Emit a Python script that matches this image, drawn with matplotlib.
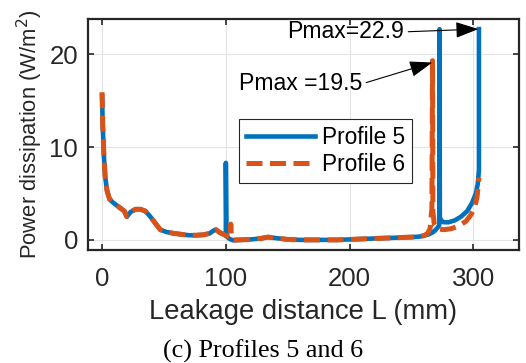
import numpy as np
import matplotlib
matplotlib.use('Agg')
import matplotlib.pyplot as plt

plt.rcParams['font.family'] = ['Liberation Sans', 'DejaVu Sans']

# Profile 5 (solid blue)
L5 = [0, 0.5, 1.5, 2.5, 4, 6, 9, 12, 15, 18, 20, 23, 27, 31, 35, 39, 43, 47, 52, 58, 64, 70, 76, 82, 87, 90, 92, 95, 98, 100,
      100, 100.5, 103, 106, 112, 120, 128, 134, 140, 150, 160, 170, 180, 190, 200, 210, 220, 230, 240, 250, 256, 260,
      264, 267, 269, 271, 272.5, 272.7, 272.9, 274, 276, 280, 285, 290, 295, 299, 302, 303.5, 304.5, 304.5]
P5 = [15.5, 12.5, 9.0, 6.8, 5.3, 4.4, 4.0, 3.7, 3.4, 3.1, 2.5, 3.0, 3.3, 3.3, 3.1, 2.5, 1.8, 1.1, 0.85, 0.7, 0.6, 0.5, 0.5, 0.55, 0.7, 1.0, 1.1, 0.8, 0.6, 0.5,
      8.3, 0.4, 0.1, -0.05, 0.0, 0.05, 0.15, 0.3, 0.2, 0.05, 0.0, 0.0, 0.0, 0.0, 0.05, 0.1, 0.15, 0.2, 0.25, 0.3, 0.35, 0.45,
      0.6, 0.8, 1.0, 1.3, 1.6, 22.7, 2.4, 2.1, 1.9, 1.9, 2.1, 2.5, 3.1, 4.0, 5.0, 6.0, 7.5, 22.7]

# Profile 6 (dashed orange)
L6 = [0, 0.5, 1.5, 2.5, 4, 6, 9, 12, 15, 18, 20, 23, 27, 31, 35, 39, 43, 47, 52, 58, 64, 70, 76, 82, 87, 90, 92, 95, 98, 101,
      103.5, 104, 104.5, 106, 112, 120, 128, 134, 140, 150, 160, 170, 180, 190, 200, 210, 220, 230, 240, 250, 256, 260,
      263, 265, 266.5, 267, 267.3, 268.5, 270.5, 276, 282, 288, 294, 298, 301, 303, 304.5, 304.5]
P6 = [15.9, 12.5, 9.0, 6.8, 5.3, 4.4, 4.0, 3.7, 3.4, 3.1, 2.5, 3.0, 3.3, 3.3, 3.1, 2.5, 1.8, 1.1, 0.85, 0.7, 0.6, 0.5, 0.5, 0.55, 0.7, 1.0, 1.1, 0.8, 0.6, 0.4,
      0.3, 1.7, 0.3, 0.0, 0.0, 0.05, 0.15, 0.3, 0.2, 0.05, 0.0, 0.0, 0.0, 0.0, 0.05, 0.1, 0.15, 0.2, 0.25, 0.3, 0.35, 0.45,
      0.7, 1.2, 3.4, 19.3, 3.0, 1.6, 1.2, 1.1, 1.2, 1.5, 2.0, 2.7, 3.5, 4.6, 6.7, 6.7]

pmax5 = 22.9
pmax6 = 19.5

blue = '#0072BD'
orange = '#D95319'
dark = '#262626'

fig = plt.figure(figsize=(5.26, 3.63), dpi=100)
ax = fig.add_axes([0.167, 0.311, 0.820, 0.637])

ax.plot(L5, P5, color=blue, lw=3.3, label='Profile 5')
ax.plot(L6, P6, color=orange, lw=3.6, dashes=(3.2, 1.5), label='Profile 6')

ax.set_xlim(-11.5, 337)
ax.set_ylim(-1.1, 23.8)
ax.set_xticks([0, 100, 200, 300])
ax.set_yticks([0, 10, 20])
ax.grid(True, color='#e3e3e3', lw=0.8)
ax.set_axisbelow(True)
ax.tick_params(direction='in', length=4, width=1.2, top=True, right=True,
               labelsize=18.6, colors=dark, pad=7)
ax.tick_params(axis='x', pad=12)
for s in ax.spines.values():
    s.set_linewidth(1.6)
    s.set_color(dark)

ax.set_xlabel('Leakage distance L (mm)', fontsize=19.7, color=dark, labelpad=6)
ax.set_ylabel('Power dissipation (W/m$^2$)', fontsize=15.8, color=dark, labelpad=3)

# arrows start at the right end of the text
arrow = dict(arrowstyle='-|>,head_length=0.85,head_width=0.3', color='black', lw=0.8,
             shrinkA=1, shrinkB=0, relpos=(1.0, 0.5))
ax.annotate('Pmax=%.1f' % pmax5, xy=(304, 22.7), xytext=(244, 22.4), fontsize=16.6,
            ha='right', va='center', arrowprops=arrow)
ax.annotate('Pmax =%.1f' % pmax6, xy=(266.8, 19.1), xytext=(210, 16.8), fontsize=16.6,
            ha='right', va='center', arrowprops=arrow)

leg = ax.legend(loc='upper left', bbox_to_anchor=(0.35, 0.567), borderaxespad=0, fontsize=16.3,
                fancybox=False, framealpha=1, edgecolor=dark, handlelength=3.05,
                handletextpad=0.31, borderpad=0.3, labelspacing=0.2)
leg.get_frame().set_linewidth(0.8)

fig.text(0.5, 0.033, '(c) Profiles 5 and 6', ha='center', va='center', fontsize=18.8,
         family=['Liberation Serif', 'DejaVu Serif'])

fig.savefig('out.png', dpi=100)
